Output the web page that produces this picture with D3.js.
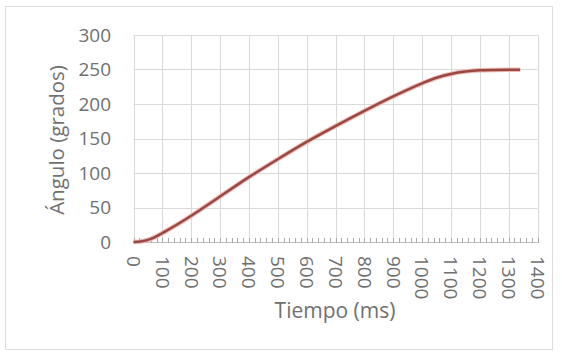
<!DOCTYPE html>
<html><head><meta charset="utf-8">
<script src="https://cdn.jsdelivr.net/npm/d3@7"></script>
<style>body{margin:0;background:#fff}svg{display:block}text{font-family:"Open Sans",sans-serif;fill:#707070}</style>
</head><body><svg id="c" width="562" height="354"></svg>
<script>
const timeMs = [0, 30, 60, 100, 150, 200, 300, 400, 500, 600, 700, 800, 900, 1000, 1050, 1100, 1150, 1200, 1250, 1300, 1340];
const angleDeg = [0, 1, 4.5, 13, 25, 38, 66, 94, 120, 145, 168, 190, 211, 230, 238, 243.5, 247, 248.8, 249.3, 249.5, 249.5];
const xTicks = [0,100,200,300,400,500,600,700,800,900,1000,1100,1200,1300,1400];
const yTicks = [0,50,100,150,200,250,300];
const xTitle = "Tiempo (ms)";
const yTitle = "Ángulo (grados)";

const svg = d3.select("#c");
const L = 133.5, R = 537.5, T = 35, B = 242;
const x = d3.scaleLinear().domain([0,1400]).range([L,R]);
const y = d3.scaleLinear().domain([0,300]).range([B,T]);

svg.append("rect").attr("x",5.5).attr("y",6.5).attr("width",547).attr("height",343)
  .attr("fill","#fff").attr("stroke","#dcdcdc");

// gridlines
svg.append("g").selectAll("line").data(yTicks).join("line")
  .attr("x1",L).attr("x2",R).attr("y1",d=>Math.round(y(d))+0.5).attr("y2",d=>Math.round(y(d))+0.5)
  .attr("stroke",d=>d===0?"#bcbcbc":"#d9d9d9");
svg.append("g").selectAll("line").data(xTicks).join("line")
  .attr("y1",T).attr("y2",B).attr("x1",d=>Math.round(x(d))+0.5).attr("x2",d=>Math.round(x(d))+0.5)
  .attr("stroke","#d9d9d9");

// minor ticks on x axis
const minor = d3.range(0,1401,20);
svg.append("g").selectAll("line").data(minor).join("line")
  .attr("x1",d=>Math.round(x(d))+0.5).attr("x2",d=>Math.round(x(d))+0.5)
  .attr("y1",B-4).attr("y2",B+1).attr("stroke","#a8a8a8");

// y labels
svg.append("g").selectAll("text").data(yTicks).join("text")
  .attr("x",111).attr("y",d=>y(d)).attr("dy","0.35em").attr("text-anchor","end")
  .attr("font-size",19).text(d=>d);

// x labels rotated
svg.append("g").selectAll("text").data(xTicks).join("text")
  .attr("transform",d=>`translate(${x(d)},${256}) rotate(90)`)
  .attr("dy","0.35em").attr("text-anchor","start").attr("font-size",19).text(d=>d);

// titles
svg.append("text").attr("x",335).attr("y",318).attr("text-anchor","middle")
  .attr("font-size",21).text(xTitle);
svg.append("text").attr("transform","translate(57,140) rotate(-90)")
  .attr("text-anchor","middle").attr("dy","0.35em").attr("font-size",20.5).text(yTitle);

// line
const line = d3.line().x((d,i)=>x(timeMs[i])).y(d=>y(d)).curve(d3.curveMonotoneX);
svg.append("path").datum(angleDeg).attr("d",line).attr("fill","none")
  .attr("stroke","#f0b8b4").attr("stroke-width",4.5);
svg.append("path").datum(angleDeg).attr("d",line).attr("fill","none")
  .attr("stroke","#9a4842").attr("stroke-width",2.5);
</script></body></html>
